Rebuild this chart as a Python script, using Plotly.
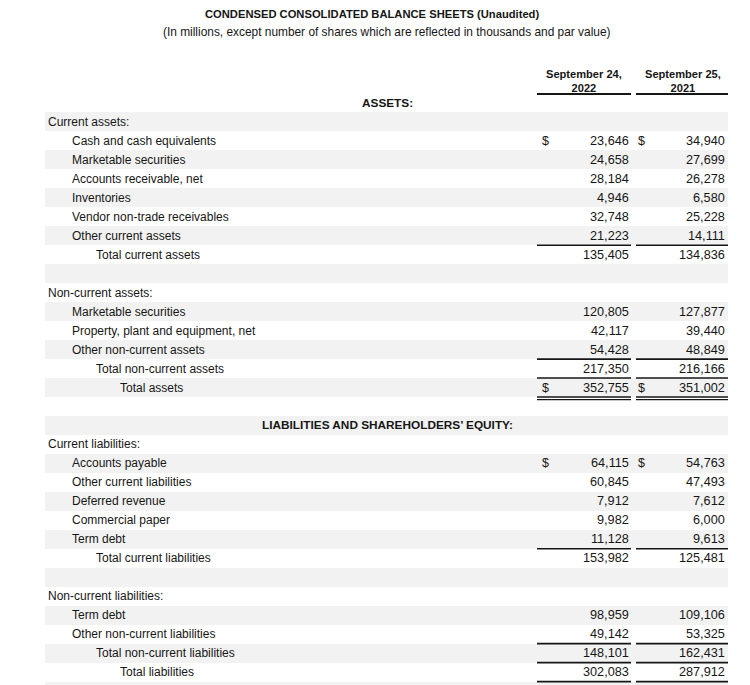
import plotly.graph_objects as go

# --- table content ---
row_labels = [
    "ASSETS:", "Current assets:", "Cash and cash equivalents", "Marketable securities",
    "Accounts receivable, net", "Inventories", "Vendor non-trade receivables",
    "Other current assets", "Total current assets", "",
    "Non-current assets:", "Marketable securities", "Property, plant and equipment, net",
    "Other non-current assets", "Total non-current assets", "Total assets", "",
    "LIABILITIES AND SHAREHOLDERS\u2019 EQUITY:", "Current liabilities:", "Accounts payable",
    "Other current liabilities", "Deferred revenue", "Commercial paper", "Term debt",
    "Total current liabilities", "",
    "Non-current liabilities:", "Term debt", "Other non-current liabilities",
    "Total non-current liabilities", "Total liabilities",
]
# hierarchy level of each row (-1 = section heading)
row_levels = [-1, 0, 1, 1, 1, 1, 1, 1, 2, 0,
              0, 1, 1, 1, 2, 3, 0,
              -1, 0, 1, 1, 1, 1, 1, 2, 0,
              0, 1, 1, 2, 3]
values_2022 = [None, None, 23646, 24658, 28184, 4946, 32748, 21223, 135405, None,
               None, 120805, 42117, 54428, 217350, 352755, None,
               None, None, 64115, 60845, 7912, 9982, 11128, 153982, None,
               None, 98959, 49142, 148101, 302083]
values_2021 = [None, None, 34940, 27699, 26278, 6580, 25228, 14111, 134836, None,
               None, 127877, 39440, 48849, 216166, 351002, None,
               None, None, 54763, 47493, 7612, 6000, 9613, 125481, None,
               None, 109106, 53325, 162431, 287912]
dollar_rows = [2, 15, 19]
rule_above_rows = [8, 14, 15, 24, 29, 30]
double_rule_below_rows = [15]
rule_below_rows = [30]
col_headers = ["September 24,<br>2022", "September 25,<br>2021"]
title = "CONDENSED CONSOLIDATED BALANCE SHEETS (Unaudited)"
subtitle = "(In millions, except number of shares which are reflected in thousands and par value)"

# --- geometry (x in px, y in row units) ---
PAGE_OFF = 8          # the html body margin
TOP_ROW_PX = 103
PITCH = 18.97
def px_to_row(p):
    return (p - TOP_ROW_PX) / PITCH

BAND_X = (45, 728)
INDENT_X = {0: 46, 1: 70, 2: 94, 3: 118}
HEAD_CX = 387
COLS = [dict(dollar=540, right=631, line=(537, 631), cx=584),
        dict(dollar=636, right=727, line=(636, 728), cx=683)]
TXT = "#161616"
FONT = "Liberation Sans, Arial, sans-serif"
SHADE = "#f2f2f2"

n_rows = len(row_labels)
fig = go.Figure()

# alternating shaded bands (odd rows), one more at the very bottom
shaded = [r for r in range(n_rows + 1) if r % 2 == 1]
fig.add_trace(go.Bar(
    y=shaded, x=[BAND_X[1] - BAND_X[0]] * len(shaded), base=BAND_X[0],
    orientation="h", width=1, marker=dict(color=SHADE, line_width=0),
    hoverinfo="skip", showlegend=False,
))

ann = []
def add_text(x, r, text, anchor="left", bold=False, size=12):
    ann.append(dict(x=x, y=r, xref="x", yref="y", text=f"<b>{text}</b>" if bold else text,
                    showarrow=False, xanchor=anchor, yanchor="middle",
                    font=dict(family=FONT, size=size, color=TXT)))

for r, (lab, lvl) in enumerate(zip(row_labels, row_levels)):
    if not lab:
        continue
    if lvl == -1:
        add_text(HEAD_CX, r, lab, anchor="center", bold=True, size=11.8)
    else:
        add_text(INDENT_X[lvl], r, lab)

for col, vals in zip(COLS, [values_2022, values_2021]):
    for r, v in enumerate(vals):
        if v is None:
            continue
        add_text(col["right"], r, f"{v:,}", anchor="right", size=12.7)
        if r in dollar_rows:
            add_text(col["dollar"], r, "$", anchor="left", size=12.5)

# title, subtitle and column headers
add_text(372, px_to_row(14), title, anchor="center", bold=True, size=11.2)
add_text(386, px_to_row(32), subtitle, anchor="center", size=11.9)
for col, h in zip(COLS, col_headers):
    add_text(col["cx"], px_to_row(80.5), h, anchor="center", bold=True, size=11.1)

shapes = []
def hline(col, r, w=1.6):
    shapes.append(dict(type="line", xref="x", yref="y", x0=col["line"][0], x1=col["line"][1],
                       y0=r, y1=r, line=dict(color=TXT, width=w)))

for col in COLS:
    hline(col, px_to_row(94), 2)
    for r in rule_above_rows:
        hline(col, r - 0.5)
    for r in double_rule_below_rows:
        hline(col, r + 0.5, 1.4)
        hline(col, r + 0.5 + 2.6 / PITCH, 1.4)
    for r in rule_below_rows:
        hline(col, r + 0.5)

fig.update_layout(
    width=750 - PAGE_OFF, height=685 - PAGE_OFF,
    margin=dict(l=0, r=0, t=0, b=0),
    paper_bgcolor="white", plot_bgcolor="white",
    annotations=ann, shapes=shapes,
    xaxis=dict(range=[PAGE_OFF, 750], visible=False, fixedrange=True),
    yaxis=dict(range=[px_to_row(685), px_to_row(PAGE_OFF)], visible=False, fixedrange=True),
    bargap=0,
)

fig.write_html("out.html", config={"displayModeBar": False})
